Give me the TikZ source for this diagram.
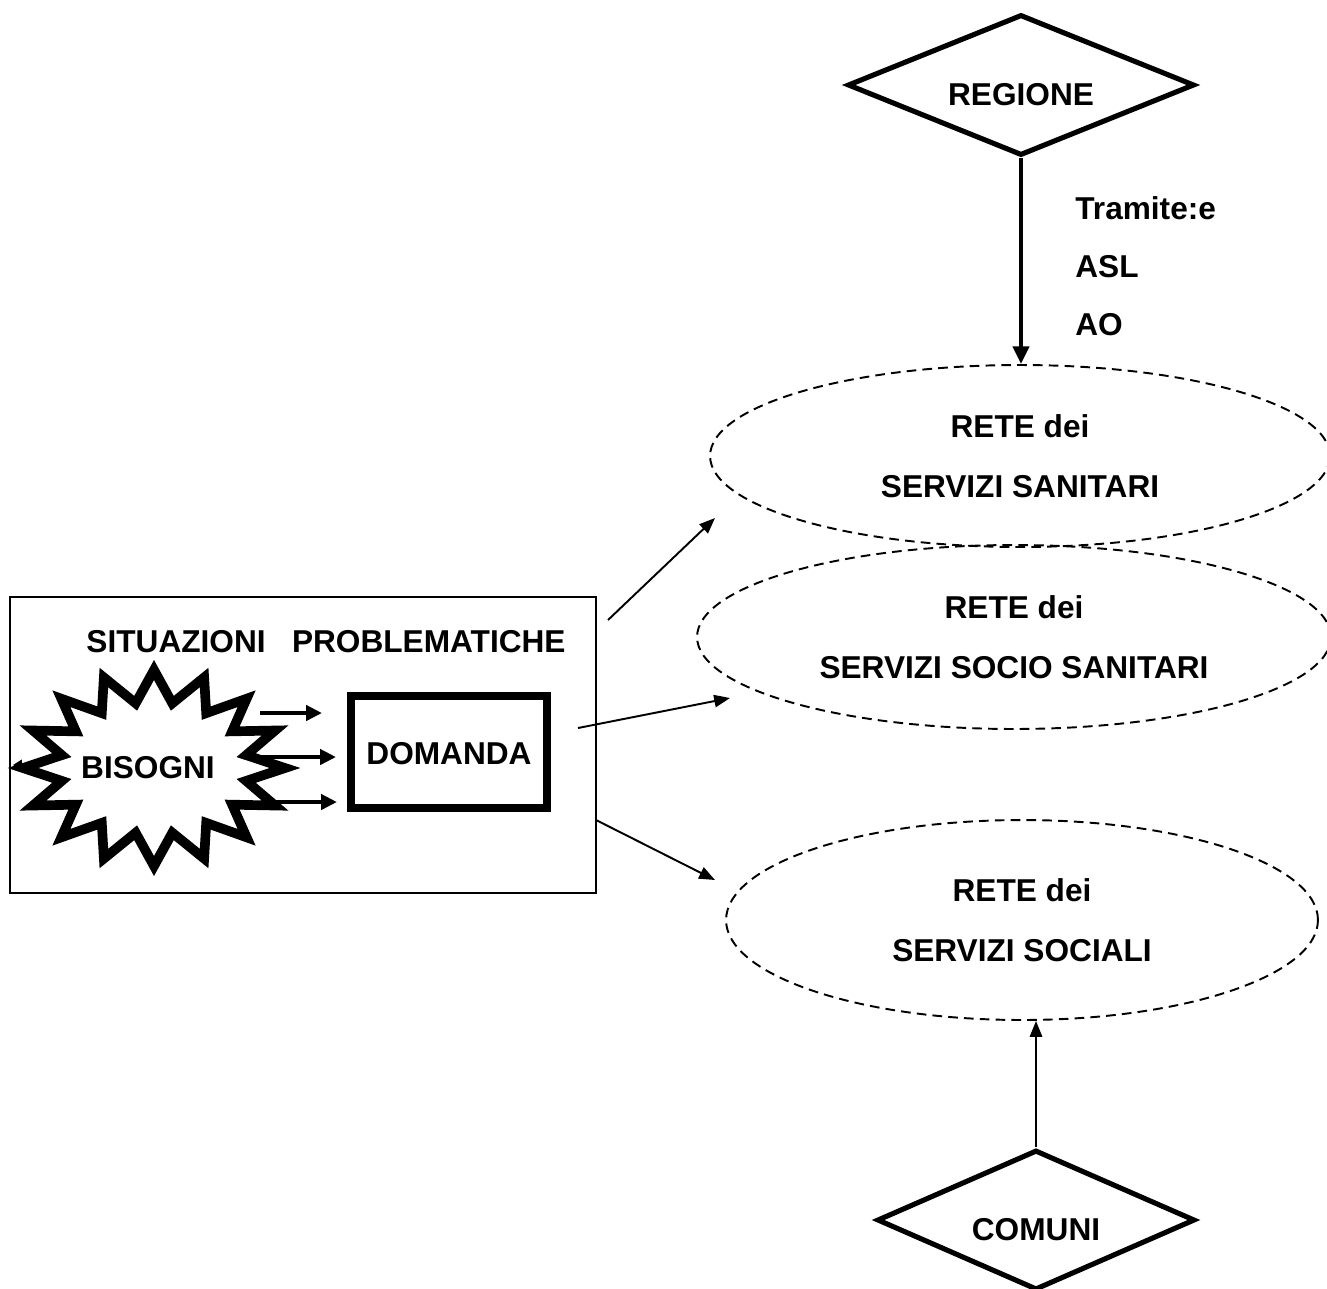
\documentclass[tikz,border=0pt]{standalone}
\usepackage{fontspec}
\setmainfont{Liberation Sans}
\usetikzlibrary{shapes.geometric,arrows.meta,calc}
\begin{document}
\begin{tikzpicture}[x=0.02cm,y=-0.02cm,
  txt/.style={font=\fontsize{18}{34}\selectfont\bfseries, inner sep=0pt},
  rete/.style={ellipse, draw, dashed, dash pattern=on 5.5pt off 3.5pt, line width=1.1pt, inner sep=0pt, align=center, font=\fontsize{18}{34}\selectfont\bfseries},
  ente/.style={diamond, draw, line width=2.9pt, inner sep=0pt, aspect=2.4},
  thinarrow/.style={line width=1.1pt, -{Triangle[length=9pt,width=7pt]}},
  midarrow/.style={line width=2.3pt, -{Triangle[length=9pt,width=8.5pt]}},
  bigarrow/.style={line width=2.4pt, -{Triangle[length=10pt,width=9pt]}}
]
\useasboundingbox (0,0) rectangle (1327,1288);

% outer box
\node[draw, line width=1.2pt, minimum width=11.72cm, minimum height=5.92cm, inner sep=0pt] (sitbox) at (303,745) {};
\node[txt] (sit) at (326,642) {SITUAZIONI\ \ \ PROBLEMATICHE};

% small hidden arrow to the left
\coordinate (lefttip) at (13,765);
\coordinate (leftstart) at (70,765);
\draw[line width=1pt, -{Triangle[length=5pt,width=6pt]}] (leftstart) -- (lefttip);

% starburst
\coordinate (star) at (154,768);
\draw[line width=5.5pt, fill=white, miter limit=10]
  ($(star)+(0,-98)$)
  \foreach \i in {1,...,16} {
    -- ($(star)+({94*cos(90-22.5*\i+11.25)},{-66*sin(90-22.5*\i+11.25)})$)
    -- ($(star)+({131*cos(90-22.5*\i)},{-98*sin(90-22.5*\i)})$)
  } -- cycle;
\node[txt] (bisogni) at (148,768) {BISOGNI};

% domanda
\node[draw, line width=5pt, minimum width=3.92cm, minimum height=2.24cm, inner sep=0pt] (domanda) at (449,752) {};
\node[txt] (domtxt) at (449,754) {DOMANDA};

% three arrows into domanda
\coordinate (s1) at (260,713); \coordinate (e1) at (322,713);
\coordinate (s2) at (255,757); \coordinate (e2) at (336,757);
\coordinate (s3) at (262,802); \coordinate (e3) at (337,802);
\draw[midarrow] (s1) -- (e1);
\draw[midarrow] (s2) -- (e2);
\draw[midarrow] (s3) -- (e3);

% ellipses
\node[rete, minimum width=12.4cm, minimum height=3.64cm] (ell1) at (1020,456) {RETE dei\\SERVIZI SANITARI};
\node[rete, minimum width=12.68cm, minimum height=3.68cm] (ell2) at (1014,637) {RETE dei\\SERVIZI SOCIO SANITARI};
\node[rete, minimum width=11.84cm, minimum height=4cm] (ell3) at (1022,920) {RETE dei\\SERVIZI SOCIALI};

% arrows from box
\coordinate (a1s) at (608,620); \coordinate (a1e) at (715,518);
\coordinate (a2s) at (578,728); \coordinate (a2e) at (730,698);
\coordinate (a3s) at (596,820); \coordinate (a3e) at (715,880);
\draw[thinarrow] (a1s) -- (a1e);
\draw[thinarrow] (a2s) -- (a2e);
\draw[thinarrow] (a3s) -- (a3e);

% REGIONE
\node[ente, minimum width=6.94cm, minimum height=2.82cm] (regione) at (1021,85) {};
\node[txt] (regtxt) at (1021,95) {REGIONE};
\draw[bigarrow] (regione.south) -- (regione.south |- ell1.north);

\node[txt, anchor=base west] (tram) at (1075,219) {Tramite:e};
\node[txt, anchor=base west] (asl) at (1075,277) {ASL};
\node[txt, anchor=base west] (ao) at (1075,335) {AO};

% COMUNI
\node[ente, minimum width=6.36cm, minimum height=2.8cm] (comuni) at (1036,1220) {};
\node[txt] (comtxt) at (1036,1230) {COMUNI};
\draw[thinarrow] (comuni.north) -- (comuni.north |- ell3.south);
\end{tikzpicture}
\end{document}
